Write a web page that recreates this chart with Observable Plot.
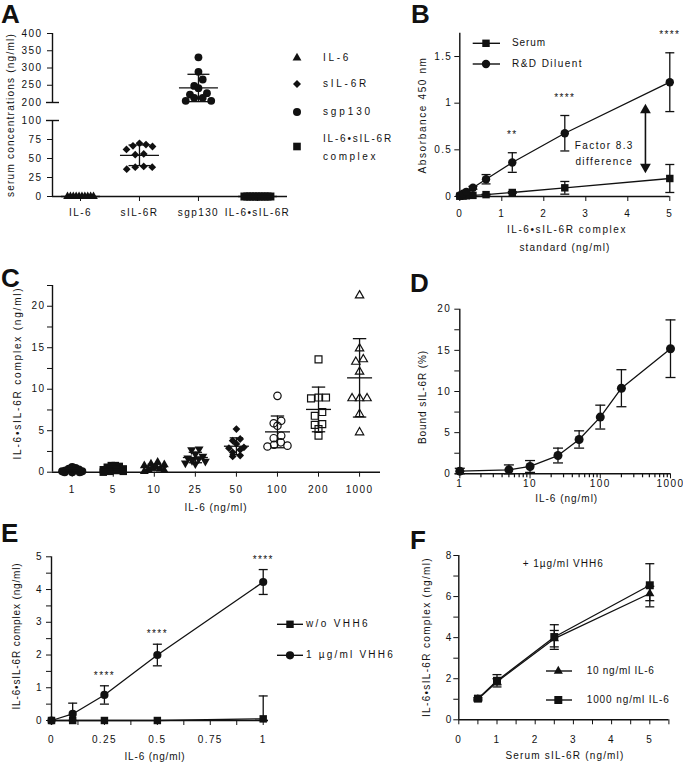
<!DOCTYPE html>
<html><head><meta charset="utf-8">
<script src="https://cdn.jsdelivr.net/npm/d3@7"></script>
<script src="https://cdn.jsdelivr.net/npm/@observablehq/plot@0.6"></script>
<style>
html,body{margin:0;padding:0;background:#fff;}
#fig{position:relative;width:683px;height:762px;overflow:hidden;background:#fff;font-family:"Liberation Sans",Arial,sans-serif;color:#111;}
.t{position:absolute;font-size:10px;white-space:nowrap;line-height:1;}
.letter{position:absolute;font-size:26px;font-weight:bold;line-height:1;}
</style></head><body><div id="fig"></div>
<script>
// ================= DATA =================
// Panel A
const aCategories = ["IL-6", "sIL-6R", "sgp130", "IL-6•sIL-6R"];
const aIL6 = [0, 0, 0, 0, 0, 0, 0, 0, 0, 0];
const aSIL6R = [70, 68.4, 66.7, 65.8, 62, 56, 55, 39.5, 38.6, 38.6, 36];
const aSgp130 = [331, 289, 266.7, 248, 241.5, 227, 223, 213.6, 213.6, 205, 205];
const aComplex = [0, 0, 0, 0, 0, 0, 0, 0, 0, 0];
const aYTicksLow = [0, 25, 50, 75, 100];
const aYTicksHigh = [200, 250, 300, 350, 400];
const aLegend = ["IL-6", "sIL-6R", "sgp130", "IL-6•sIL-6R", "complex"];

// Panel B
const bConc = [0, 0.078, 0.156, 0.3125, 0.625, 1.25, 2.5, 5];
const bSerum = [0.003, 0.005, 0.008, 0.012, 0.02, 0.043, 0.093, 0.193];
const bSerumSD = [0, 0, 0, 0, 0.005, 0.01, 0.068, 0.15];
const bDiluent = [0.01, 0.03, 0.05, 0.093, 0.185, 0.364, 0.678, 1.225];
const bDiluentSD = [0, 0.005, 0.01, 0.015, 0.05, 0.105, 0.19, 0.315];
const bStars = ["", "", "", "", "", "**", "****", "****"];
const bXTicks = [0, 1, 2, 3, 4, 5];
const bYTicks = [0, 0.5, 1, 1.5];
const bSeries = ["Serum", "R&D Diluent"];
const bNote = "Factor 8.3\ndifference";

// Panel C
const cDoses = ["1", "5", "10", "25", "50", "100", "200", "1000"];
const c1 = [0.6, 0.5, 0.4, 0.3, 0.2, 0.1, 0.1, 0, 0, 0];
const c5 = [0.8, 0.8, 0.7, 0.6, 0.4, 0.3, 0.2, 0.1, 0.1, 0];
const c10 = [1.2, 1.0, 0.9, 0.8, 0.6, 0.5, 0.4, 0.3, 0.2, 0.1];
const c25 = [2.8, 2.7, 2.2, 1.9, 1.7, 1.6, 1.4, 1.3, 1.1, 1.0];
const c50 = [5.2, 4.0, 3.8, 3.4, 3.0, 2.9, 2.7, 2.4, 2.0, 1.9];
const c100 = [9.2, 6.2, 5.9, 5.6, 4.4, 4.1, 3.6, 3.3, 3.1, 3.2];
const c200 = [13.6, 9.0, 8.9, 9.0, 7.25, 6.8, 5.8, 5.7, 5.2, 4.4];
const c1000 = [21.3, 14.9, 13.6, 13.3, 12.1, 8.9, 8.9, 8.9, 7.0, 4.8];
const cYTicks = [0, 2.5, 5, 7.5, 10, 12.5, 15, 17.5, 20, 22.5];

// Panel D
const dConc = [1, 5, 10, 25, 50, 100, 200, 1000];
const dBound = [0.32, 0.48, 0.89, 2.22, 4.17, 6.89, 10.4, 15.2];
const dSD = [0.35, 0.6, 0.72, 0.9, 1.05, 1.45, 2.25, 3.5];
const dXTicks = [1, 10, 100, 1000];
const dXMinor = [2, 3, 4, 5, 6, 7, 8, 9, 20, 30, 40, 50, 60, 70, 80, 90, 200, 300, 400, 500, 600, 700, 800, 900];
const dYTicks = [0, 2.5, 5, 7.5, 10, 12.5, 15, 17.5, 20];

// Panel E
const eConc = [0, 0.1, 0.25, 0.5, 1];
const eWithout = [0, 0, 0, 0, 0.05];
const eWithoutSD = [0, 0, 0, 0, 0.7];
const eWith = [0, 0.2, 0.78, 2.0, 4.23];
const eWithSD = [0, 0.33, 0.28, 0.33, 0.38];
const eStars = ["", "", "****", "****", "****"];
const eXTicks = [0, 0.125, 0.25, 0.375, 0.5, 0.625, 0.75, 0.875, 1];
const eXLabels = ["0", "0.25", "0.5", "0.75", "1"];
const eYTicks = [0, 0.5, 1, 1.5, 2, 2.5, 3, 3.5, 4, 4.5, 5];
const eSeries = ["w/o VHH6", "1 µg/ml VHH6"];

// Panel F
const fConc = [0.5, 1, 2.5, 5];
const f10 = [1.0, 1.85, 3.95, 6.15];
const f10SD = [0.05, 0.15, 0.4, 0.35];
const f1000 = [1.03, 1.9, 4.03, 6.55];
const f1000SD = [0.05, 0.3, 0.6, 1.05];
const fXTicks = [0, 0.5, 1, 1.5, 2, 2.5, 3, 3.5, 4, 4.5, 5, 5.5];
const fYTicks = [0, 1, 2, 3, 4, 5, 6, 7, 8];
const fSeries = ["10 ng/ml IL-6", "1000 ng/ml IL-6"];
const fNote = "+ 1µg/ml VHH6";

// ================= LAYOUT =================
const W = 683, H = 762, INK = "#111";
const FONT = '"Liberation Sans", Arial, sans-serif';
const fig = document.getElementById("fig");
const LA = {x: [52, 287], xd: [-0.475, 3.51]};
const LA_low = {x: LA.x, y: [196, 120], yd: [0, 100]};
const LA_high = {x: LA.x, y: [102, 33], yd: [200, 400]};
const LB = {x: [459.3, 669.3], xd: [0, 5], y: [196, 32.7], yd: [0, 1.75]};
const LC = {x: [52, 380], xd: [-0.48, 7.51], y: [471.7, 285], yd: [0, 22.5]};
const LD = {x: [459.3, 670], xd: [1, 1000], y: [473.3, 308.7], yd: [0, 20]};
const LE = {x: [51, 268], xd: [0, 1.025], y: [720, 556.3], yd: [0, 5]};
const LF = {x: [458.3, 668.4], xd: [0, 5.5], y: [719.3, 555], yd: [0, 8]};
const margins = L => ({marginLeft: L.x[0], marginRight: W - L.x[1], marginTop: L.y[1], marginBottom: H - L.y[0]});

// custom symbols
const sqrt3 = Math.sqrt(3);
const hLine = {draw(c, size) { const w = Math.sqrt(size / Math.PI); c.moveTo(-w, 0); c.lineTo(w, 0); }};
const tickDown = {draw(c, size) { const w = Math.sqrt(size / Math.PI); c.moveTo(0, 0); c.lineTo(0, w); }};
const triDown = {draw(c, size) { const y = Math.sqrt(size / (sqrt3 * 3)); c.moveTo(0, 2 * y); c.lineTo(-sqrt3 * y, -y); c.lineTo(sqrt3 * y, -y); c.closePath(); }};

function addPlot(opts) {
  const svg = Plot.plot(Object.assign({
    width: W, height: H,
    style: {background: "transparent", fontFamily: FONT, fontSize: "10px", letterSpacing: "1.4px", color: INK, overflow: "visible"}
  }, opts));
  svg.style.position = "absolute"; svg.style.left = "0px"; svg.style.top = "0px";
  fig.appendChild(svg);
}

const mctx = document.createElement("canvas").getContext("2d");
function label(str, cx, cy, target, {rotate = false, anchor = "middle", size = 10} = {}) {
  mctx.font = `${size}px "Liberation Sans"`;
  const nat = mctx.measureText(str).width;
  const n = [...str].length;
  const ls = target ? Math.max(0, (target - nat) / n) : 1;
  const el = document.createElement("div");
  el.className = "t";
  el.textContent = str;
  el.style.fontSize = size + "px";
  el.style.letterSpacing = ls.toFixed(2) + "px";
  el.style.left = cx + "px"; el.style.top = cy + "px";
  const tx = anchor === "middle" ? "-50%" : anchor === "end" ? "-100%" : "0";
  el.style.transform = `translate(${tx},-50%)` + (rotate ? " rotate(-90deg)" : "");
  fig.appendChild(el);
}
function letter(ch, x, y) {
  const el = document.createElement("div");
  el.className = "letter"; el.textContent = ch;
  el.style.left = x + "px"; el.style.top = y + "px";
  fig.appendChild(el);
}

// GraphPad-like row scatter: rows of similar values spread symmetrically
function swarm(values, yScale, {thr, step, maxW}) {
  const idx = d3.range(values.length).sort((a, b) => d3.descending(values[a], values[b]));
  const off = new Array(values.length).fill(0);
  let row = [], start = 0;
  const flush = () => {
    const n = row.length;
    const s = n > 1 ? Math.min(step, maxW / (n - 1)) : 0;
    const slots = d3.range(n).map(k => (k - (n - 1) / 2) * s)
      .sort((a, b) => Math.abs(a) - Math.abs(b) || b - a);
    row.forEach((i, k) => off[i] = slots[k]);
    row = [];
  };
  for (const i of idx) {
    const py = yScale(values[i]);
    if (row.length && Math.abs(py - start) >= thr) flush();
    if (!row.length) start = py;
    row.push(i);
  }
  flush();
  return off;
}

function series(xs, ys, sds, extra = {}) {
  return xs.map((x, i) => ({x, y: ys[i], lo: Math.max(0, ys[i] - sds[i]), hi: ys[i] + sds[i], sd: sds[i],
    star: extra.stars ? extra.stars[i] : ""}));
}
function errMarks(rows, capR) {
  const e = rows.filter(d => d.sd > 0);
  return [
    Plot.ruleX(e, {x: "x", y1: "lo", y2: "hi", stroke: INK, strokeWidth: 1.3}),
    Plot.dot(e, {x: "x", y: "lo", symbol: hLine, r: capR, stroke: INK, strokeWidth: 1.3, fill: "none"}),
    Plot.dot(e, {x: "x", y: "hi", symbol: hLine, r: capR, stroke: INK, strokeWidth: 1.3, fill: "none"})
  ];
}
function scatterGroups(groups, xScale, yScale, cfg, meanHalf, capHalf, inDom = () => true) {
  const step = xScale(1) - xScale(0);
  const marks = [];
  groups.forEach((g, i) => {
    const off = swarm(g.values, yScale, cfg);
    const pts = g.values.map((v, k) => ({x: i + off[k] / step, y: v})).filter(d => inDom(d.y));
    marks.push(Plot.dot(pts, {x: "x", y: "y", symbol: g.symbol, r: g.r,
      fill: g.filled ? INK : "none", stroke: INK, strokeWidth: g.filled ? 0 : 1.2}));
  });
  const stats = groups.map((g, i) => {
    const m = d3.mean(g.values), s = d3.deviation(g.values) || 0;
    return {x: i, y: m, lo: m - s, hi: m + s, sd: s};
  }).filter(d => inDom(d.y));
  marks.push(Plot.dot(stats, {x: "x", y: "y", symbol: hLine, r: meanHalf, stroke: INK, strokeWidth: 1.3, fill: "none"}));
  marks.push(...errMarks(stats, capHalf));
  return marks;
}

// ================= PANEL A (broken y axis: two stacked plots) =================
{
  const yS = d3.scaleLinear([...LA_low.yd, ...LA_high.yd], [...LA_low.y, ...LA_high.y]);
  const xS = d3.scaleLinear(LA.xd, LA.x);
  const groups = [
    {values: aIL6, symbol: "triangle", r: 3.2, filled: true},
    {values: aSIL6R, symbol: "diamond2", r: 3.5, filled: true},
    {values: aSgp130, symbol: "circle", r: 3.9, filled: true},
    {values: aComplex, symbol: "square", r: 4.5, filled: true}
  ];
  for (const [part, ticks, isLow] of [[LA_low, aYTicksLow, true], [LA_high, aYTicksHigh, false]]) {
    const inDom = v => v >= part.yd[0] && v <= part.yd[1];
    addPlot({
      ...margins(part),
      x: isLow
        ? {domain: LA.xd, ticks: [0, 1, 2, 3], tickFormat: i => aCategories[i], tickSize: 5, tickPadding: 7, label: null}
        : {domain: LA.xd, axis: null},
      y: {domain: part.yd, ticks, tickFormat: d => String(d), tickSize: 5, tickPadding: 5, label: null},
      marks: [
        Plot.ruleX([LA.xd[0]], {stroke: INK, strokeWidth: 1.4}),
        isLow ? Plot.ruleY([0], {stroke: INK, strokeWidth: 1.4}) : null,
        Plot.dot([isLow ? part.yd[1] : part.yd[0]], {x: () => LA.xd[0], y: d => d, symbol: hLine, r: 6.5, stroke: INK, strokeWidth: 1.4, fill: "none"}),
        ...scatterGroups(groups, xS, yS, {thr: 7, step: 8.5, maxW: 26}, 19.5, 11, inDom)
      ]
    });
  }
}

// ================= PANEL B =================
{
  const serum = series(bConc, bSerum, bSerumSD);
  const dil = series(bConc, bDiluent, bDiluentSD, {stars: bStars});
  const arrowX = 4.42, arrowLo = 0.25, arrowHi = 0.993;
  addPlot({
    ...margins(LB),
    x: {domain: LB.xd, ticks: bXTicks, tickFormat: d => String(d), tickSize: 5, tickPadding: 8, label: null},
    y: {domain: LB.yd, ticks: bYTicks, tickFormat: d => String(d), tickSize: 5, tickPadding: 2.5, label: null},
    marks: [
      Plot.ruleX([LB.xd[0]], {stroke: INK, strokeWidth: 1.4}),
      Plot.ruleY([LB.yd[0]], {stroke: INK, strokeWidth: 1.4}),
      Plot.line(serum, {x: "x", y: "y", stroke: INK, strokeWidth: 1.3}),
      Plot.line(dil, {x: "x", y: "y", stroke: INK, strokeWidth: 1.3}),
      ...errMarks(serum, 4.5), ...errMarks(dil, 4.5),
      Plot.dot(serum, {x: "x", y: "y", symbol: "square", r: 4.2, fill: INK}),
      Plot.dot(dil, {x: "x", y: "y", symbol: "circle", r: 4.2, fill: INK}),
      Plot.text(dil.filter(d => d.star), {x: "x", y: "hi", text: "star", dy: -18, fill: INK, fontSize: 10}),
      Plot.ruleX([arrowX], {y1: arrowLo + 0.05, y2: arrowHi - 0.05, stroke: INK, strokeWidth: 1.6}),
      Plot.dot([arrowHi], {x: () => arrowX, y: d => d, symbol: "triangle", r: 4, fill: INK, dy: 6.2}),
      Plot.dot([arrowLo], {x: () => arrowX, y: d => d, symbol: triDown, r: 4, fill: INK, dy: -6.2}),
      Plot.text([bNote], {x: () => 3.44, y: () => 0.482, text: d => d, lineHeight: 1.66, fill: INK, fontSize: 10})
    ]
  });
}

// ================= PANEL C =================
{
  const yS = d3.scaleLinear(LC.yd, LC.y);
  const xS = d3.scaleLinear(LC.xd, LC.x);
  const groups = [
    {values: c1, symbol: "circle", r: 4.1, filled: true},
    {values: c5, symbol: "square", r: 4.2, filled: true},
    {values: c10, symbol: "triangle", r: 3.3, filled: true},
    {values: c25, symbol: triDown, r: 3.3, filled: true},
    {values: c50, symbol: "diamond2", r: 3.5, filled: true},
    {values: c100, symbol: "circle", r: 3.7, filled: false},
    {values: c200, symbol: "square", r: 3.9, filled: false},
    {values: c1000, symbol: "triangle", r: 3.1, filled: false}
  ];
  addPlot({
    ...margins(LC),
    x: {domain: LC.xd, ticks: d3.range(cDoses.length), tickFormat: i => cDoses[i], tickSize: 5, tickPadding: 9, label: null},
    y: {domain: LC.yd, ticks: cYTicks, tickFormat: d => d % 5 === 0 ? String(d) : "", tickSize: 5, tickPadding: 2, label: null},
    marks: [
      Plot.ruleX([LC.xd[0]], {stroke: INK, strokeWidth: 1.4}),
      Plot.ruleY([LC.yd[0]], {stroke: INK, strokeWidth: 1.4}),
      ...scatterGroups(groups, xS, yS, {thr: 4.5, step: 7.5, maxW: 20}, 12.5, 6.7)
    ]
  });
}

// ================= PANEL D =================
{
  const rows = series(dConc, dBound, dSD);
  addPlot({
    ...margins(LD),
    x: {type: "log", domain: LD.xd, ticks: dXTicks, tickFormat: d => String(d), tickSize: 5, tickPadding: 1, label: null},
    y: {domain: LD.yd, ticks: dYTicks, tickFormat: d => d % 5 === 0 ? String(d) : "", tickSize: 5, tickPadding: 3.5, label: null},
    marks: [
      Plot.ruleX([LD.xd[0]], {stroke: INK, strokeWidth: 1.4}),
      Plot.ruleY([LD.yd[0]], {stroke: INK, strokeWidth: 1.4}),
      Plot.dot(dXMinor, {x: d => d, y: () => LD.yd[0], symbol: tickDown, r: 3.5, stroke: INK, strokeWidth: 1.2, fill: "none"}),
      Plot.line(rows, {x: "x", y: "y", stroke: INK, strokeWidth: 1.3}),
      ...errMarks(rows, 5),
      Plot.dot(rows, {x: "x", y: "y", symbol: "circle", r: 4.5, fill: INK})
    ]
  });
}

// ================= PANEL E =================
{
  const wo = series(eConc, eWithout, eWithoutSD);
  const wi = series(eConc, eWith, eWithSD, {stars: eStars});
  addPlot({
    ...margins(LE),
    x: {domain: LE.xd, ticks: eXTicks, tickFormat: d => eXLabels.includes(String(d)) ? String(d) : "", tickSize: 5, tickPadding: 10, label: null},
    y: {domain: LE.yd, ticks: eYTicks, tickFormat: d => Number.isInteger(d) ? String(d) : "", tickSize: 5, tickPadding: 3.5, label: null},
    marks: [
      Plot.ruleX([LE.xd[0]], {stroke: INK, strokeWidth: 1.4}),
      Plot.ruleY([LE.yd[0]], {stroke: INK, strokeWidth: 1.4}),
      Plot.line(wo, {x: "x", y: "y", stroke: INK, strokeWidth: 1.3}),
      Plot.line(wi, {x: "x", y: "y", stroke: INK, strokeWidth: 1.3}),
      ...errMarks(wo, 4.5), ...errMarks(wi, 4.5),
      Plot.dot(wo, {x: "x", y: "y", symbol: "square", r: 4.2, fill: INK}),
      Plot.dot(wi, {x: "x", y: "y", symbol: "circle", r: 4.1, fill: INK}),
      Plot.text(wi.filter(d => d.star), {x: "x", y: "hi", text: "star", dy: -10, fill: INK, fontSize: 10})
    ]
  });
}

// ================= PANEL F =================
{
  const s10 = series(fConc, f10, f10SD);
  const s1000 = series(fConc, f1000, f1000SD);
  addPlot({
    ...margins(LF),
    x: {domain: LF.xd, ticks: fXTicks, tickFormat: d => Number.isInteger(d) ? String(d) : "", tickSize: 5, tickPadding: 11, label: null},
    y: {domain: LF.yd, ticks: fYTicks, tickFormat: d => d % 2 === 0 ? String(d) : "", tickSize: 5, tickPadding: 1, label: null},
    marks: [
      Plot.ruleX([LF.xd[0]], {stroke: INK, strokeWidth: 1.4}),
      Plot.ruleY([LF.yd[0]], {stroke: INK, strokeWidth: 1.4}),
      Plot.line(s10, {x: "x", y: "y", stroke: INK, strokeWidth: 1.3}),
      Plot.line(s1000, {x: "x", y: "y", stroke: INK, strokeWidth: 1.3}),
      ...errMarks(s10, 4.5), ...errMarks(s1000, 4.5),
      Plot.dot(s10, {x: "x", y: "y", symbol: "triangle", r: 3.4, fill: INK}),
      Plot.dot(s1000, {x: "x", y: "y", symbol: "square", r: 4.5, fill: INK})
    ]
  });
}

// ================= LEGEND GLYPHS =================
const overlay = d3.create("svg").attr("width", W).attr("height", H)
  .style("position", "absolute").style("left", "0px").style("top", "0px");
function glyph(x, y, type, r, line) {
  if (line) overlay.append("line").attr("x1", line[0]).attr("x2", line[1]).attr("y1", y).attr("y2", y)
    .attr("stroke", INK).attr("stroke-width", 1.4);
  overlay.append("path").attr("transform", `translate(${x},${y})`)
    .attr("d", d3.symbol(type, Math.PI * r * r)()).attr("fill", INK);
}
glyph(297, 58, d3.symbolTriangle, 3.3);
glyph(297, 84, d3.symbolDiamond2, 3.6);
glyph(297, 112, d3.symbolCircle, 4);
glyph(297, 146.5, d3.symbolSquare, 4.3);
glyph(486, 43.3, d3.symbolSquare, 4.2, [472.7, 500]);
glyph(486, 64, d3.symbolCircle, 4.2, [472.7, 500]);
glyph(290, 624.3, d3.symbolSquare, 4.2, [277, 303]);
glyph(290, 655.3, d3.symbolCircle, 4.1, [277, 303]);
glyph(558.3, 671, d3.symbolTriangle, 3.4, [546, 572]);
glyph(558.3, 700, d3.symbolSquare, 4.5, [546, 572]);
fig.appendChild(overlay.node());

// ================= TEXT =================
letter("A", 1, 1); letter("B", 411, 1);
letter("C", 1, 265); letter("D", 410, 270);
letter("E", 1, 520); letter("F", 410, 527);

// A
label("serum concentrations (ng/ml)", 11, 115, 164, {rotate: true});
label(aLegend[0], 323, 58, 28, {anchor: "start"});
label(aLegend[1], 323, 84, 46, {anchor: "start"});
label(aLegend[2], 323, 112, 50, {anchor: "start"});
label(aLegend[3], 323, 139, 70, {anchor: "start"});
label(aLegend[4], 323, 157, 55, {anchor: "start"});
// B
label("Absorbance 450 nm", 423, 115, 117, {rotate: true});
label("IL-6•sIL-6R complex", 567, 230, 120, {});
label("standard (ng/ml)", 565, 248, 91, {});
label(bSeries[0], 512, 43.3, 34, {anchor: "start"});
label(bSeries[1], 512, 64, 71, {anchor: "start"});
// C
label("IL-6•sIL-6R complex (ng/ml)", 17.5, 373, 173, {rotate: true});
label("IL-6 (ng/ml)", 216, 508, 63, {});
// D
label("Bound sIL-6R (%)", 422.7, 397, 94, {rotate: true});
label("IL-6 (ng/ml)", 566.7, 499.3, 63, {});
// E
label("IL-6•sIL-6R complex (ng/ml)", 17, 636, 147, {rotate: true});
label("IL-6 (ng/ml)", 155, 756.7, 61, {});
label(eSeries[0], 306, 624.3, 64, {anchor: "start"});
label(eSeries[1], 306, 655.3, 89, {anchor: "start"});
// F
label("IL-6•sIL-6R complex (ng/ml)", 427, 637, 160, {rotate: true});
label("Serum sIL-6R (ng/ml)", 565, 756, 119, {});
label(fNote, 522.7, 564.3, 81, {anchor: "start"});
label(fSeries[0], 586.7, 671, 68, {anchor: "start"});
label(fSeries[1], 586.7, 700, 83, {anchor: "start"});
</script>
</body></html>
